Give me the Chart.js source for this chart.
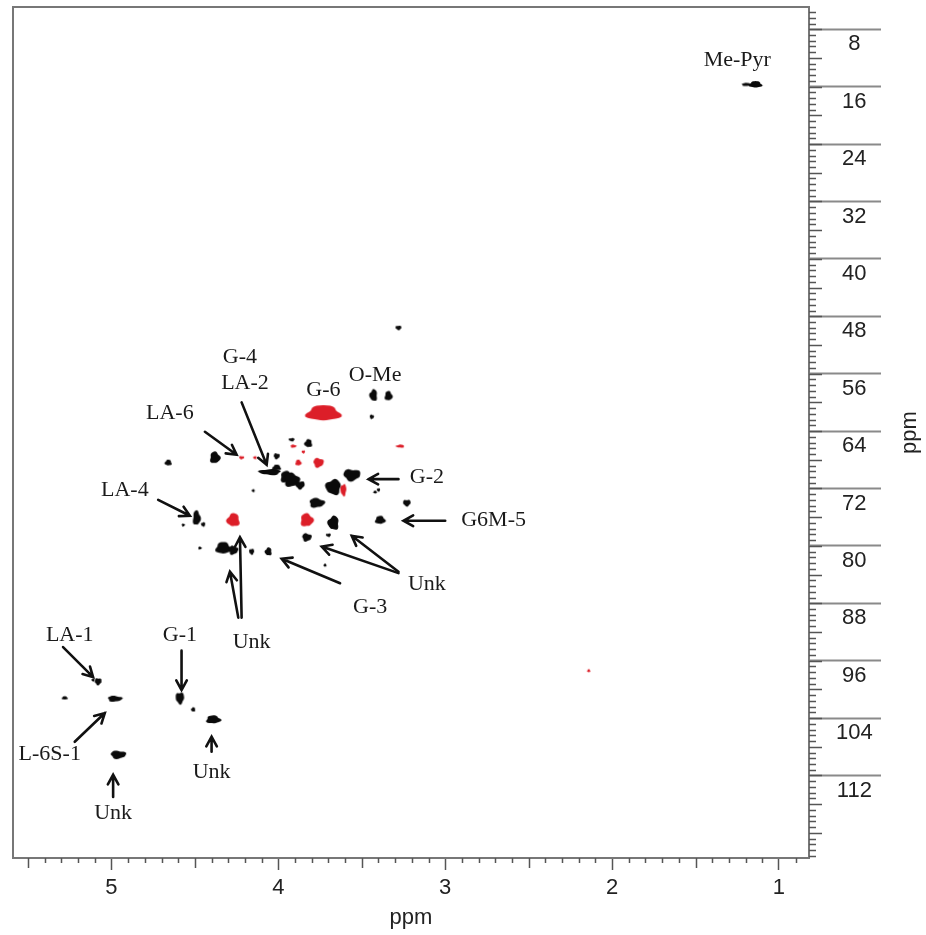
<!DOCTYPE html>
<html>
<head>
<meta charset="utf-8">
<script src="https://cdn.jsdelivr.net/npm/chart.js@4.4.1/dist/chart.umd.min.js"></script>
<style>
  html, body { margin: 0; padding: 0; background: #fff; }
</style>
</head>
<body>
<canvas id="hsqc" width="926" height="935"></canvas>
<script>
// black cross peaks: 1H shift, 13C shift, 1H width, 13C width (all ppm)
var blackH = [1.14, 1.19, 3.28, 3.43, 3.34, 3.44, 3.92, 3.82, 3.95, 3.56,
              3.67, 3.42, 3.77, 3.23, 3.67, 3.39, 3.83, 3.70, 3.72, 4.38,
              4.01, 4.05, 4.01, 3.92, 3.87, 4.15, 4.33, 4.27, 4.16, 4.06,
              4.49, 4.57, 4.45, 4.66, 4.47, 5.08, 5.11, 5.28, 4.98, 4.59,
              4.51, 4.39, 4.96, 3.40];
var blackC = [15.7, 15.7, 49.6, 59.0, 59.1, 62.0, 65.2, 65.7, 70.4, 70.1,
              71.8, 72.5, 74.0, 74.0, 76.8, 76.4, 78.8, 78.5, 82.7, 67.7,
              67.5, 69.7, 69.1, 70.8, 71.5, 72.3, 80.3, 80.6, 80.8, 80.8,
              76.1, 77.1, 77.0, 68.4, 80.3, 98.9, 98.7, 101.2, 101.3, 101.2,
              102.8, 104.2, 109.1, 72.2];
var blackWH = [0.075, 0.07, 0.035, 0.045, 0.045, 0.025, 0.035, 0.045, 0.075, 0.10,
               0.09, 0.02, 0.09, 0.045, 0.065, 0.06, 0.055, 0.03, 0.015, 0.06,
               0.035, 0.13, 0.05, 0.09, 0.055, 0.015, 0.09, 0.055, 0.03, 0.04,
               0.045, 0.015, 0.025, 0.04, 0.02, 0.04, 0.015, 0.035, 0.085, 0.05,
               0.025, 0.085, 0.09, 0.02];
var blackWC = [0.9, 0.3, 0.6, 1.6, 1.3, 0.6, 0.45, 1.1, 1.6, 1.6,
               2.1, 0.4, 1.3, 0.9, 1.9, 1.1, 1.1, 0.45, 0.3, 1.6,
               0.8, 0.8, 0.8, 1.9, 1.1, 0.3, 1.6, 1.2, 0.8, 1.1,
               2.0, 0.3, 0.6, 0.8, 0.4, 0.95, 0.3, 0.45, 0.8, 1.6,
               0.6, 1.1, 1.1, 0.45];

// red (negative phase) cross peaks
var redH  = [3.73, 3.91, 3.85, 3.27, 3.88, 3.76, 3.61, 4.27, 3.83, 4.22, 4.14, 2.14];
var redC  = [61.5, 66.1, 66.9, 66.1, 68.4, 68.4, 72.2, 76.4, 76.4, 67.7, 67.7, 97.4];
var redWH = [0.2, 0.035, 0.02, 0.05, 0.035, 0.06, 0.035, 0.075, 0.075, 0.03, 0.02, 0.015];
var redWC = [2.1, 0.3, 0.4, 0.3, 0.8, 1.3, 1.6, 1.8, 1.8, 0.4, 0.3, 0.4];

// assignments (text centre in ppm)
var labelText = ['Me-Pyr', 'O-Me', 'G-6', 'G-4', 'LA-2', 'LA-6', 'LA-4', 'G-2', 'G6M-5',
                 'Unk', 'G-3', 'Unk', 'LA-1', 'G-1', 'L-6S-1', 'Unk', 'Unk'];
var labelH = [1.25, 3.42, 3.73, 4.23, 4.20, 4.65, 4.92, 3.11, 2.71,
              3.11, 3.45, 4.16, 5.25, 4.59, 5.37, 4.40, 4.99];
var labelC = [12.3, 56.2, 58.3, 53.7, 57.3, 61.5, 72.2, 70.5, 76.4,
              85.4, 88.6, 93.4, 92.4, 92.4, 109.1, 111.6, 117.2];

// arrows, tail -> head (ppm)
var arrowFromH = [4.44, 4.22, 4.72, 3.28, 3.00, 3.28, 3.28, 3.63, 4.22, 4.24, 5.29, 4.58, 5.22, 4.40, 4.99];
var arrowFromC = [64.1, 60.0, 73.6, 70.7, 76.5, 83.8, 83.6, 85.2, 90.0, 90.0, 94.1, 94.6, 107.3, 108.7, 115.0];
var arrowToH   = [4.25, 4.07, 4.53, 3.46, 3.25, 3.74, 3.56, 3.98, 4.23, 4.29, 5.11, 4.58, 5.04, 4.40, 4.99];
var arrowToC   = [67.3, 68.7, 75.8, 70.7, 76.5, 80.1, 78.6, 81.8, 78.8, 83.6, 98.3, 100.1, 103.3, 106.6, 111.9];

var xTicks = [1, 2, 3, 4, 5];
var yTicks = [8, 16, 24, 32, 40, 48, 56, 64, 72, 80, 88, 96, 104, 112];

function toPoints(hs, cs, wh, wc) {
    return hs.map(function (h, i) {
        return { x: h, y: cs[i], w: wh[i], h: wc[i] };
    });
}

var blobCache = {};
function blob(ctx, color) {
    var p = ctx.raw;
    var sx = ctx.chart.scales.x, sy = ctx.chart.scales.y;
    var kx = Math.abs(sx.getPixelForValue(0) - sx.getPixelForValue(1));
    var ky = Math.abs(sy.getPixelForValue(0) - sy.getPixelForValue(1));
    var w = Math.max(3, p.w * kx), h = Math.max(3, p.h * ky);
    var key = color + w.toFixed(1) + 'x' + h.toFixed(1) + ctx.dataIndex;
    if (blobCache[key]) return blobCache[key];
    var c = document.createElement('canvas');
    c.width = Math.ceil(w * 1.3) + 4;
    c.height = Math.ceil(h * 1.3) + 4;
    var g = c.getContext('2d');
    var seed = ctx.dataIndex * 1.7;
    g.fillStyle = color;
    g.beginPath();
    for (var i = 0; i < 32; i++) {
        var a = i / 32 * Math.PI * 2;
        var wob = 1 + 0.12 * Math.sin(3 * a + seed) + 0.07 * Math.sin(5 * a + 2 * seed);
        var px = c.width / 2 + Math.cos(a) * w / 2 * wob;
        var py = c.height / 2 + Math.sin(a) * h / 2 * wob;
        if (i === 0) g.moveTo(px, py); else g.lineTo(px, py);
    }
    g.closePath();
    g.fill();
    blobCache[key] = c;
    return c;
}

var extras = {
    id: 'extras',
    afterDraw: function (chart) {
        var ctx = chart.ctx, a = chart.chartArea;
        var sx = chart.scales.x, sy = chart.scales.y;
        ctx.save();
        // frame top and left
        ctx.strokeStyle = '#777';
        ctx.lineWidth = 2;
        ctx.beginPath();
        ctx.moveTo(a.left, a.bottom);
        ctx.lineTo(a.left, a.top);
        ctx.lineTo(a.right, a.top);
        ctx.stroke();

        // minor ticks
        ctx.strokeStyle = '#555';
        ctx.lineWidth = 1.5;
        ctx.beginPath();
        for (var k = Math.ceil(sx.min * 10); k <= Math.floor(sx.max * 10); k++) {
            if (k % 10 === 0) continue;
            var px = Math.round(sx.getPixelForValue(k / 10)) + 0.5;
            var len = (k % 5 === 0) ? 10 : 5;
            ctx.moveTo(px, a.bottom);
            ctx.lineTo(px, a.bottom + len);
        }
        for (var m = Math.ceil(sy.min / 0.8); m <= Math.floor(sy.max / 0.8); m++) {
            var py = Math.round(sy.getPixelForValue(m * 0.8)) + 0.5;
            var l2 = (m % 5 === 0) ? 13 : 7;
            ctx.moveTo(a.right, py);
            ctx.lineTo(a.right + l2, py);
        }
        ctx.stroke();

        // arrows
        ctx.strokeStyle = '#111';
        ctx.lineWidth = 2.6;
        ctx.lineCap = 'round';
        for (var i = 0; i < arrowFromH.length; i++) {
            var x1 = sx.getPixelForValue(arrowFromH[i]), y1 = sy.getPixelForValue(arrowFromC[i]);
            var x2 = sx.getPixelForValue(arrowToH[i]), y2 = sy.getPixelForValue(arrowToC[i]);
            var ang = Math.atan2(y2 - y1, x2 - x1);
            ctx.beginPath();
            ctx.moveTo(x1, y1);
            ctx.lineTo(x2, y2);
            ctx.moveTo(x2 - 11 * Math.cos(ang - 0.5), y2 - 11 * Math.sin(ang - 0.5));
            ctx.lineTo(x2, y2);
            ctx.lineTo(x2 - 11 * Math.cos(ang + 0.5), y2 - 11 * Math.sin(ang + 0.5));
            ctx.stroke();
        }

        // labels
        ctx.fillStyle = '#1a1a1a';
        ctx.font = '22px "Liberation Serif", "Times New Roman", serif';
        ctx.textAlign = 'center';
        ctx.textBaseline = 'middle';
        labelText.forEach(function (t, i) {
            ctx.fillText(t, sx.getPixelForValue(labelH[i]), sy.getPixelForValue(labelC[i]));
        });

        // F1 axis title, reading bottom to top
        ctx.save();
        ctx.translate(910, (a.top + a.bottom) / 2);
        ctx.rotate(-Math.PI / 2);
        ctx.fillStyle = '#222';
        ctx.font = '22px "Liberation Sans", Arial, sans-serif';
        ctx.fillText('ppm', 0, 0);
        ctx.restore();
        ctx.restore();
    }
};

var myChart = new Chart(document.getElementById('hsqc'), {
    type: 'scatter',
    data: {
        datasets: [{
            label: 'positive',
            data: toPoints(blackH, blackC, blackWH, blackWC),
            pointStyle: function (c) { return blob(c, '#0a0a0a'); }
        }, {
            label: 'negative',
            data: toPoints(redH, redC, redWH, redWC),
            pointStyle: function (c) { return blob(c, '#dc1e28'); }
        }]
    },
    options: {
        responsive: false,
        animation: false,
        events: [],
        layout: { padding: { left: 13, top: 7, right: 0, bottom: 0 } },
        plugins: { legend: { display: false }, tooltip: { enabled: false } },
        scales: {
            x: {
                type: 'linear',
                position: 'bottom',
                reverse: true,
                min: 0.82,
                max: 5.59,
                afterFit: function (s) { s.height = 77; },
                afterBuildTicks: function (s) {
                    s.ticks = xTicks.map(function (v) { return { value: v }; });
                },
                border: { color: '#777', width: 2 },
                grid: { drawOnChartArea: false, tickLength: 12, tickColor: '#555', tickWidth: 1.5 },
                ticks: {
                    autoSkip: false,
                    maxRotation: 0,
                    padding: 5,
                    color: '#222',
                    font: { family: '"Liberation Sans", Arial, sans-serif', size: 22 }
                },
                title: {
                    display: true,
                    text: 'ppm',
                    color: '#222',
                    padding: { top: 0, bottom: 4 },
                    font: { family: '"Liberation Sans", Arial, sans-serif', size: 22 }
                }
            },
            y: {
                type: 'linear',
                position: 'right',
                reverse: true,
                min: 4.9,
                max: 123.5,
                afterFit: function (s) { s.width = 117; },
                afterBuildTicks: function (s) {
                    s.ticks = yTicks.map(function (v) { return { value: v }; });
                },
                border: { color: '#777', width: 2 },
                grid: { drawOnChartArea: false, tickLength: 72, tickColor: '#8a8a8a', tickWidth: 2 },
                ticks: {
                    autoSkip: false,
                    crossAlign: 'center',
                    padding: -45,
                    labelOffset: 15,
                    color: '#222',
                    font: { family: '"Liberation Sans", Arial, sans-serif', size: 22 }
                }
            }
        }
    },
    plugins: [extras]
});
</script>
</body>
</html>
